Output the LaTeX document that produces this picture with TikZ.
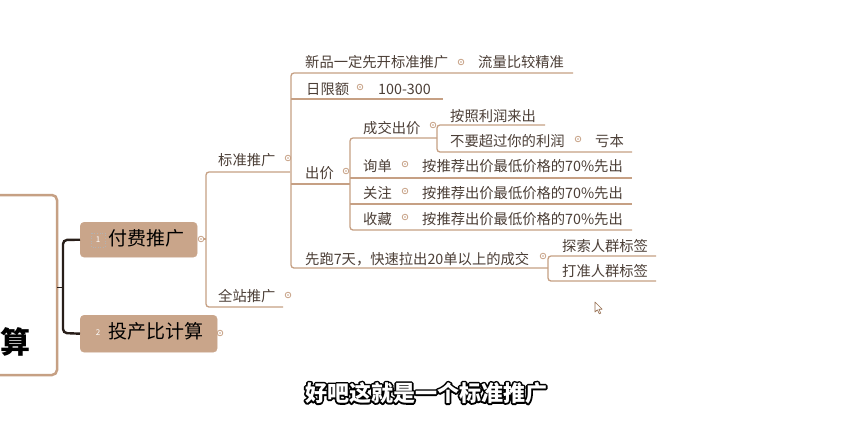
\documentclass[tikz,border=0pt]{standalone}
\usepackage{fontspec}
\setmainfont{Noto Sans CJK SC}
\definecolor{branch}{RGB}{198,160,132}
\definecolor{topicfill}{RGB}{201,165,138}
\definecolor{ink}{RGB}{75,62,54}
\definecolor{brace}{RGB}{40,30,25}
\definecolor{shade}{RGB}{150,110,80}
% outlined caption text: a stroked copy underneath a white filled copy
\newcommand{\outlinedtext}[1]{%
  \rlap{\special{pdf:code q 1 Tr 3.4 w 1 j 0 0 0 RG}#1\special{pdf:code Q}}#1}
\tikzset{
  lbl/.style={anchor=west, inner sep=0pt, text height=0.8em, text depth=0.04em, yshift=-2.5pt,
              font=\fontsize{14.3}{16}\selectfont, text=ink},
  uline/.style={draw=branch, line width=1.3pt},
  spine/.style={draw=branch, line width=1.3pt, rounded corners=3pt},
  fold/.style={circle, draw=branch, line width=0.8pt, minimum size=5.6pt, inner sep=0pt, fill=white,
               path picture={\fill[branch] (path picture bounding box.center) circle (0.9pt);}},
  topic/.style={draw=topicfill, fill=topicfill, rounded corners=4pt, inner sep=0pt},
  topictext/.style={anchor=west, inner sep=0pt, text height=0.8em, text depth=0.04em, yshift=-1.5pt,
                    font=\fontsize{19}{22}\selectfont, text=black},
  subline/.style={inner sep=0pt, font=\fontsize{22}{26}\selectfont\bfseries},
}
\begin{document}
\begin{tikzpicture}[x=1pt,y=-1pt]
\useasboundingbox (0,0) rectangle (854,440);
\fill[white] (0,0) rectangle (854,440);

% central topic (cut by the left edge)
\draw[draw=branch, line width=2.5pt, rounded corners=5pt] (-20,195) rectangle (57,375);
\node[inner sep=0pt, font=\fontsize{30}{34}\selectfont\bfseries, text=black] (root) at (15,342) {算};
\coordinate (rootout) at (57,287);
\coordinate (bracemid) at (63,287);
\draw[brace, line width=0.8pt] (rootout) -- (bracemid);

% main topics
\node[topic, minimum width=117pt, minimum height=35pt, anchor=north west] (t1) at (80,222) {};
\node[topic, minimum width=137pt, minimum height=37pt, anchor=north west] (t2) at (80,315) {};
\draw[gray!60, dotted, line width=0.6pt] (91,233) rectangle (105,247);
\node[inner sep=0pt, font=\fontsize{8}{9}\selectfont, text=white] (n1) at (98,240) {1};
\node[inner sep=0pt, font=\fontsize{8}{9}\selectfont, text=white] (n2) at (98,333) {2};
\node[topictext] (t1text) at (108,240) {付费推广};
\node[topictext] (t2text) at (108,333) {投产比计算};

% bracket joining the main topics
\draw[brace, line width=2.4pt, rounded corners=4pt] (t1.west) -- (63,240) -- (63,333) -- (t2.west);

\node[fold] (f1) at (201,239) {};
\node[fold] (f2) at (220,333) {};

% second level
\node[lbl] (biaozhun) at (218,159) {标准推广};
\node[lbl] (quanzhan) at (218,295) {全站推广};
\node[fold] (fbz) at (288,158) {};
\node[fold] (fqz) at (288,295) {};
\draw[spine] (290,172) -- (206,172) -- (206,307) -- (283,307);
\draw[uline] (f1.east) -- (206,239);

% third level under 标准推广
\draw[spine] (573,73) -- (291,73) -- (291,268) -- (548,268);
\draw[uline] (291,99) -- (443,99);
\draw[uline] (291,184) -- (350,184);

\node[lbl] (xinpin) at (305,61) {新品一定先开标准推广};
\node[fold] (fxp) at (461,62) {};
\node[lbl] (liuliang) at (478,61) {流量比较精准};

\node[lbl] (rixian) at (306,88) {日限额};
\node[fold] (frx) at (360,87) {};
\node[lbl] (rxval) at (378,88) {100-300};

\node[lbl] (chujia) at (305,172) {出价};
\node[fold] (fcj) at (346,171) {};

\node[lbl] (xianpao) at (305,258) {先跑7天，快速拉出20单以上的成交};
\node[fold] (fxpao) at (543,256) {};

% 出价 children
\draw[spine] (437,138) -- (350,138) -- (350,230) -- (632,230);
\draw[uline] (350,178) -- (632,178);
\draw[uline] (350,204) -- (632,204);

\node[lbl] (chengjiao) at (363,127) {成交出价};
\node[fold] (fcjj) at (433,125) {};
\draw[spine] (545,125) -- (437,125) -- (437,152) -- (632,152);
\node[lbl] (anzhao) at (450,115) {按照利润来出};
\node[lbl] (buyao) at (450,140) {不要超过你的利润};
\node[fold] (fby) at (578,139) {};
\node[lbl] (kuiben) at (595,140) {亏本};

\node[lbl] (xundan) at (363,165) {询单};
\node[fold] (fxd) at (405,164) {};
\node[lbl] (xdval) at (422,165) {按推荐出价最低价格的70\%先出};

\node[lbl] (guanzhu) at (363,192) {关注};
\node[fold] (fgz) at (405,191) {};
\node[lbl] (gzval) at (422,192) {按推荐出价最低价格的70\%先出};

\node[lbl] (shoucang) at (363,218) {收藏};
\node[fold] (fsc) at (405,217) {};
\node[lbl] (scval) at (422,218) {按推荐出价最低价格的70\%先出};

% 先跑7天 children
\draw[spine] (656,256) -- (548,256) -- (548,281) -- (656,281);
\node[lbl] (tansuo) at (562,245) {探索人群标签};
\node[lbl] (dazhun) at (562,270) {打准人群标签};

% mouse pointer
\draw[fill=white, draw=shade, line width=0.6pt, line join=round]
  (595,302) -- (595,312) -- (597.4,309.8) -- (599.3,313.8) -- (600.8,313.1) -- (598.9,309.2) -- (602.2,309.2) -- cycle;

% caption
\node[subline, text=white] (caption) at (426,393) {\outlinedtext{好吧这就是一个标准推广}};
\end{tikzpicture}
\end{document}
